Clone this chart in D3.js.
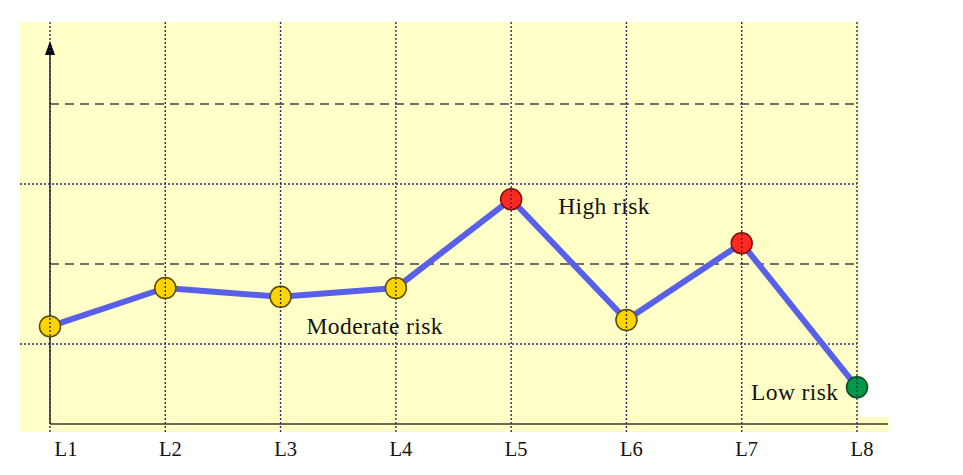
<!DOCTYPE html>
<html>
<head>
<meta charset="utf-8">
<script src="https://cdn.jsdelivr.net/npm/d3@7"></script>
<style>
  body { margin: 0; background: #fff; }
  text { font-family: "Liberation Serif", "Times New Roman", serif; fill: #111; }
</style>
</head>
<body>
<div id="chart"></div>
<script>
var WIDTH = 963, HEIGHT = 475;

var categories = ["L1", "L2", "L3", "L4", "L5", "L6", "L7", "L8"];
var riskValues = [1.22, 1.70, 1.59, 1.70, 2.81, 1.30, 2.26, 0.46];
var riskLevels = ["moderate", "moderate", "moderate", "moderate", "high", "moderate", "high", "low"];
var gridValues = [1, 2, 3, 4];
var gridStyles = ["dotted", "dashed", "dotted", "dashed"];
var riskLabels = [
  {text: "High risk", at: "L5", value: 2.81},
  {text: "Moderate risk", at: "L3", value: 1.22},
  {text: "Low risk", at: "L8", value: 0.46}
];

var fillColor = {moderate: "#ffd500", high: "#ff2a1f", low: "#009a47"};
var strokeColor = {moderate: "#5a4a00", high: "#7a1010", low: "#0b4a22"};

var svg = d3.select("#chart").append("svg")
    .attr("width", WIDTH)
    .attr("height", HEIGHT);

var x = d3.scalePoint().domain(categories).range([50, 857]);
var y = d3.scaleLinear().domain([0, 4]).range([424, 104]);

//yellow background, with the little strip under the last category
svg.append("rect").attr("x", 20).attr("y", 22).attr("width", 840).attr("height", 410).attr("fill", "#ffffc8");
svg.append("rect").attr("x", 860).attr("y", 417).attr("width", 29).attr("height", 15).attr("fill", "#ffffc8");

//horizontal grid lines: dotted ones go to the left edge, dashed start at the axis
svg.selectAll(".hgrid")
  .data(gridValues)
  .enter()
  .append("line")
  .attr("class", "hgrid")
  .attr("x1", function(d, i) { return gridStyles[i] == "dotted" ? 20 : 50 })
  .attr("x2", x("L8"))
  .attr("y1", function(d) { return y(d) })
  .attr("y2", function(d) { return y(d) })
  .attr("stroke", function(d, i) { return gridStyles[i] == "dotted" ? "#2a2a78" : "#707064" })
  .attr("stroke-width", function(d, i) { return gridStyles[i] == "dotted" ? 1.4 : 2 })
  .attr("stroke-dasharray", function(d, i) { return gridStyles[i] == "dotted" ? "2,2" : "9,6" });

//axes
svg.append("line").attr("x1", 50).attr("x2", 888).attr("y1", y(0)).attr("y2", y(0))
  .attr("stroke", "#3a3a25").attr("stroke-width", 1.6);
svg.append("line").attr("x1", 50).attr("x2", 50).attr("y1", y(0)).attr("y2", 52)
  .attr("stroke", "#3a3a25").attr("stroke-width", 1.6);
svg.append("path").attr("d", "M50,41 L45,55 L55,55 Z").attr("fill", "#000");

//risk line
var line = d3.line()
  .x(function(d, i) { return x(categories[i]) })
  .y(function(d) { return y(d) });

svg.append("path")
  .datum(riskValues)
  .attr("d", line)
  .attr("fill", "none")
  .attr("stroke", "#5860ea")
  .attr("stroke-width", 6)
  .attr("stroke-linejoin", "round");

svg.selectAll(".point")
  .data(riskValues)
  .enter()
  .append("circle")
  .attr("class", "point")
  .attr("cx", function(d, i) { return x(categories[i]) })
  .attr("cy", function(d) { return y(d) })
  .attr("r", 10.5)
  .attr("fill", function(d, i) { return fillColor[riskLevels[i]] })
  .attr("stroke", function(d, i) { return strokeColor[riskLevels[i]] })
  .attr("stroke-width", 1.5);

//risk labels
var labelOffset = {"High risk": [47, 15], "Moderate risk": [26, 8], "Low risk": [-106, 13]};
svg.selectAll(".riskLabel")
  .data(riskLabels)
  .enter()
  .append("text")
  .attr("class", "riskLabel")
  .attr("x", function(d) { return x(d.at) + labelOffset[d.text][0] })
  .attr("y", function(d) { return y(d.value) + labelOffset[d.text][1] })
  .style("font-size", "23.5px")
  .style("letter-spacing", "0.4px")
  .text(function(d) { return d.text });

//vertical dotted grid lines drawn on top
svg.selectAll(".vgrid")
  .data(categories)
  .enter()
  .append("line")
  .attr("class", "vgrid")
  .attr("x1", function(d) { return x(d) })
  .attr("x2", function(d) { return x(d) })
  .attr("y1", 22)
  .attr("y2", 432)
  .attr("stroke", "#2a2a78")
  .attr("stroke-width", 1.4)
  .attr("stroke-dasharray", "2,2");

//category labels
svg.selectAll(".catLabel")
  .data(categories)
  .enter()
  .append("text")
  .attr("class", "catLabel")
  .attr("x", function(d, i) { return x(d) + (i == 0 ? 16 : 5) })
  .attr("y", 456)
  .attr("text-anchor", "middle")
  .style("font-size", "20.5px")
  .text(function(d) { return d });
</script>
</body>
</html>
